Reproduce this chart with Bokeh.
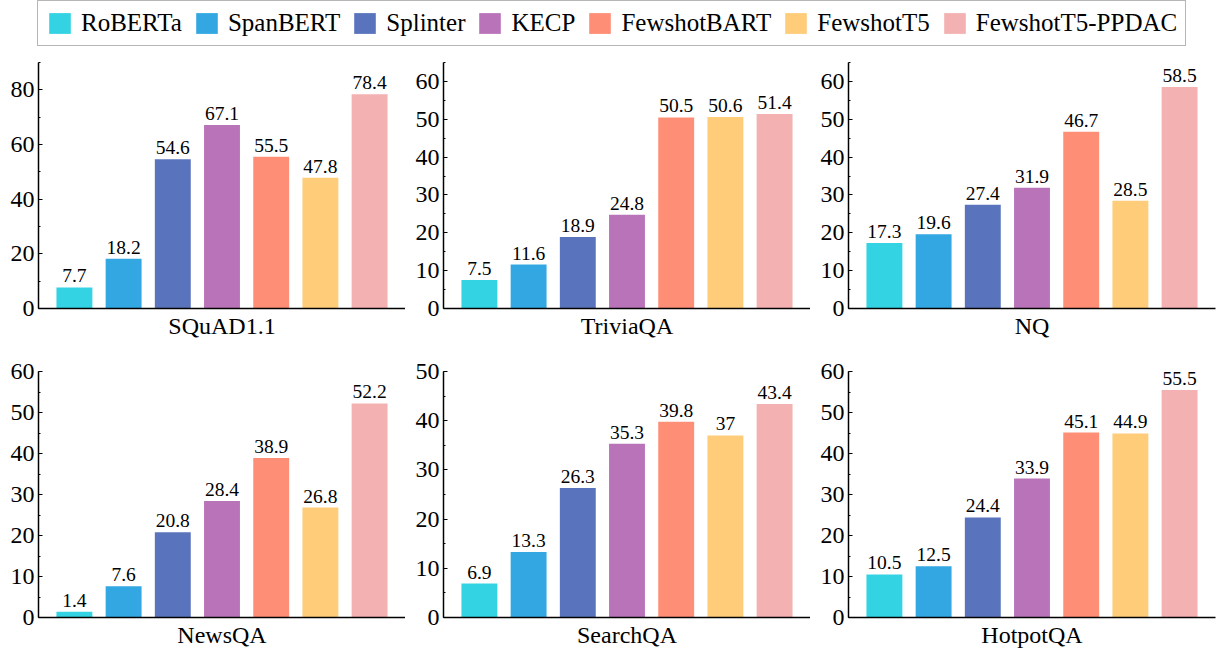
from bokeh.plotting import figure
from bokeh.layouts import column, row
from bokeh.models import (Range1d, SingleIntervalTicker, FixedTicker, Legend,
                          LegendItem, ColumnDataSource, LabelSet)
from bokeh.embed import file_html
from bokeh.resources import INLINE

FONT = "Liberation Serif"

models = ["RoBERTa", "SpanBERT", "Splinter", "KECP", "FewshotBART", "FewshotT5", "FewshotT5-PPDAC"]
colors = ["#33D3E3", "#33A7E2", "#5A73BD", "#B974B9", "#FF8E77", "#FFCC7A", "#F3B1B2"]

datasets = ["SQuAD1.1", "TriviaQA", "NQ", "NewsQA", "SearchQA", "HotpotQA"]
squad = [7.7, 18.2, 54.6, 67.1, 55.5, 47.8, 78.4]
triviaqa = [7.5, 11.6, 18.9, 24.8, 50.5, 50.6, 51.4]
nq = [17.3, 19.6, 27.4, 31.9, 46.7, 28.5, 58.5]
newsqa = [1.4, 7.6, 20.8, 28.4, 38.9, 26.8, 52.2]
searchqa = [6.9, 13.3, 26.3, 35.3, 39.8, 37, 43.4]
hotpotqa = [10.5, 12.5, 24.4, 33.9, 45.1, 44.9, 55.5]
all_values = [squad, triviaqa, nq, newsqa, searchqa, hotpotqa]

y_max = [90, 65, 65, 60, 50, 60]
y_step = [20, 10, 10, 10, 10, 10]


def panel(name, vals, ymax, step, width, height, bl, br, bt, bb):
    p = figure(width=width, height=height, output_backend="svg", toolbar_location=None,
               x_range=Range1d(-0.73, 6.73), y_range=Range1d(0, ymax),
               min_border_left=bl, min_border_right=br, min_border_top=bt,
               min_border_bottom=bb)
    p.outline_line_color = None
    p.grid.visible = False
    p.background_fill_color = "white"
    p.border_fill_color = "white"
    src = ColumnDataSource(dict(x=list(range(len(models))), top=vals, color=colors,
                                label=[f"{v:g}" for v in vals]))
    p.vbar(x="x", top="top", width=0.73, bottom=0, fill_color="color", line_color=None, source=src)
    labels = LabelSet(x="x", y="top", text="label", source=src, text_align="center",
                      text_baseline="alphabetic", y_offset=5, text_font=FONT,
                      text_font_size="19.5px", text_color="black")
    p.add_layout(labels)

    ya = p.yaxis[0]
    ya.ticker = SingleIntervalTicker(interval=step, num_minor_ticks=2)
    ya.major_label_text_font = FONT
    ya.major_label_text_font_size = "24px"
    ya.major_label_text_color = "black"
    ya.major_label_standoff = 4
    ya.major_tick_in = 4
    ya.major_tick_out = 0
    ya.minor_tick_in = 2
    ya.minor_tick_out = 0
    ya.axis_line_width = 1.5
    ya.axis_line_color = "black"
    ya.major_tick_line_color = "black"
    ya.minor_tick_line_color = "black"

    xa = p.xaxis[0]
    xa.ticker = FixedTicker(ticks=[])
    xa.axis_label = name
    xa.axis_label_text_font = FONT
    xa.axis_label_text_font_size = "24px"
    xa.axis_label_text_font_style = "normal"
    xa.axis_label_text_color = "black"
    xa.axis_label_standoff = 4
    xa.major_label_standoff = 0
    xa.major_tick_out = 0
    xa.major_tick_in = 0
    xa.minor_tick_out = 0
    xa.axis_line_width = 1.5
    xa.axis_line_color = "black"
    return p


widths = [405, 405, 408]
border_right = [0, 0, 3]
panels = []
for i, (name, vals) in enumerate(zip(datasets, all_values)):
    c = i % 3
    if i < 3:
        h, bt, bb = 295, 7, 42
    else:
        h, bt, bb = 302, 21, 35
    panels.append(panel(name, vals, y_max[i], y_step[i], widths[c], h, 38, border_right[c], bt, bb))

# legend figure (swatch renderers sit outside the visible range; only the legend shows)
lf = figure(width=1218, height=55, output_backend="svg", toolbar_location=None,
            x_axis_type=None, y_axis_type=None, min_border=0,
            x_range=Range1d(0, 1), y_range=Range1d(0, 1))
lf.outline_line_color = None
lf.grid.visible = False
items = []
for m, col in zip(models, colors):
    r = lf.quad(left=[-3], right=[-2], top=[-2], bottom=[-3], fill_color=col, line_color=None)
    items.append(LegendItem(label=m, renderers=[r]))
leg = Legend(items=items, orientation="horizontal", location=(37, 9),
             glyph_width=27, glyph_height=26, label_height=26, label_standoff=8,
             spacing=11, padding=8, margin=0,
             label_text_font=FONT, label_text_font_size="25px", label_text_color="black",
             border_line_color="#6e6e6e", border_line_width=1.5,
             background_fill_color="white", background_fill_alpha=1.0)
lf.add_layout(leg, "center")

layout = column(lf, row(*panels[:3]), row(*panels[3:]))

open("out.html", "w").write(file_html(layout, INLINE))
